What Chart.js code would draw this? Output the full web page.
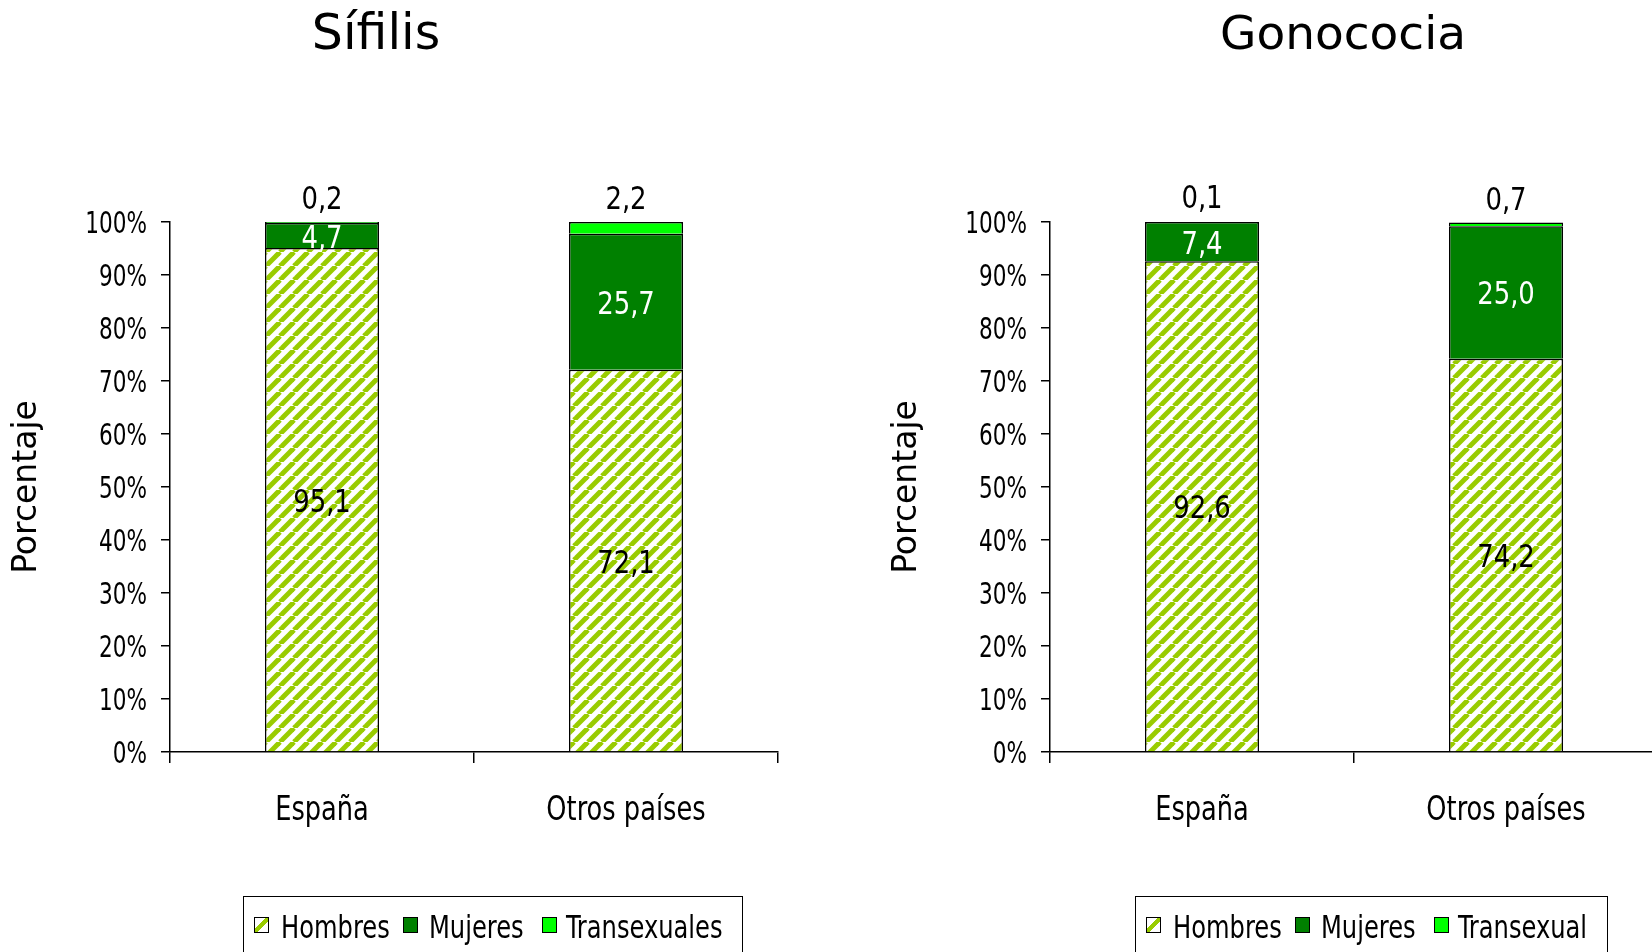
<!DOCTYPE html>
<html>
<head>
<meta charset="utf-8">
<script src="https://cdn.jsdelivr.net/npm/chart.js@4"></script>
<style>
  html, body { margin: 0; padding: 0; background: #fff; }
  body { width: 1652px; height: 952px; position: relative; overflow: hidden; }
  .grafico { position: absolute; top: 0; }
  .titulo {
    position: absolute; top: 9px; font-family: "DejaVu Sans", sans-serif;
    line-height: 48px; color: #000; transform: translateX(-50%); white-space: nowrap;
  }
  .leyenda {
    position: absolute; top: 896px; height: 80px; box-sizing: border-box;
    border: 1.5px solid #000;
    font-family: "DejaVu Sans Condensed", sans-serif; font-size: 32px; line-height: 36px;
  }
  .leyenda .marca { position: absolute; top: 20px; width: 13px; height: 14px; border: 1px solid #000; }
  .leyenda .texto { position: absolute; top: 12px; white-space: nowrap; transform: scaleX(0.84); transform-origin: 0 0; }
</style>
</head>
<body>
<canvas id="graficoSifilis" class="grafico" width="880" height="952" style="left:0px"></canvas>
<canvas id="graficoGono" class="grafico" width="880" height="952" style="left:880px"></canvas>
<div class="titulo" style="left:376px; font-size:49px">Sífilis</div>
<div class="titulo" style="left:1343px; font-size:47px">Gonococia</div>
<div id="leyendaSifilis" class="leyenda" style="left:243px; width:500px"></div>
<div id="leyendaGono" class="leyenda" style="left:1135px; width:473px"></div>

<script>
// Datos
const categorias = ['España', 'Otros países'];
const seriesSifilis = ['Hombres', 'Mujeres', 'Transexuales'];
const seriesGono = ['Hombres', 'Mujeres', 'Transexual'];

const sifilisHombres = [95.1, 72.1];
const sifilisMujeres = [4.7, 25.7];
const sifilisTrans = [0.2, 2.2];

const gonoHombres = [92.6, 74.2];
const gonoMujeres = [7.4, 25.0];
const gonoTrans = [0.1, 0.7];

const ticksY = [0, 10, 20, 30, 40, 50, 60, 70, 80, 90, 100];

const VERDE_CLARO = '#99cc00';
const VERDE_OSCURO = '#008000';
const VERDE_FLUOR = '#00ff00';
const FUENTE = '"DejaVu Sans Condensed", sans-serif';

// Trama rayada para Hombres
function crearTrama() {
    const s = 14;
    const c = document.createElement('canvas');
    c.width = s; c.height = s;
    const ctx = c.getContext('2d');
    ctx.fillStyle = '#fff';
    ctx.fillRect(0, 0, s, s);
    ctx.strokeStyle = VERDE_CLARO;
    ctx.lineWidth = 5;
    for (let k = -1; k <= 1; k++) {
        ctx.beginPath();
        ctx.moveTo(k * s, s);
        ctx.lineTo(k * s + s, 0);
        ctx.stroke();
    }
    return ctx.createPattern(c, 'repeat');
}
const trama = crearTrama();

function formatear(v) {
    return v.toFixed(1).replace('.', ',');
}

// texto comprimido horizontalmente (la fuente original es muy estrecha)
function textoEstrecho(ctx, texto, x, y, align, k) {
    ctx.save();
    ctx.translate(x, y);
    ctx.scale(k, 1);
    ctx.textAlign = align;
    ctx.fillText(texto, 0, 0);
    ctx.restore();
}

// Etiquetas de ejes y valores
const etiquetasPlugin = {
    id: 'etiquetas',
    afterDraw(chart) {
        const ctx = chart.ctx;
        const sx = chart.scales.x;
        const sy = chart.scales.y;
        ctx.save();
        ctx.fillStyle = '#000';
        ctx.textBaseline = 'alphabetic';

        ctx.font = '30px ' + FUENTE;
        ticksY.forEach(v => {
            textoEstrecho(ctx, v + '%', sx.left - 23, sy.getPixelForValue(v) + 11, 'right', 0.8);
        });

        ctx.font = '34px ' + FUENTE;
        categorias.forEach((c, i) => {
            textoEstrecho(ctx, c, sx.getPixelForValue(i), 820, 'center', 0.84);
        });

        ctx.font = '32px ' + FUENTE;
        chart.data.datasets.forEach((ds, i) => {
            const meta = chart.getDatasetMeta(i);
            meta.data.forEach((bar, j) => {
                const p = bar.getProps(['x', 'y', 'base'], true);
                const texto = formatear(ds.data[j]);
                if (i === 2) {
                    ctx.fillStyle = '#000';
                    textoEstrecho(ctx, texto, p.x, p.y - 13, 'center', 0.9);
                } else {
                    ctx.fillStyle = i === 1 ? '#fff' : '#000';
                    textoEstrecho(ctx, texto, p.x, (p.y + p.base) / 2 + 12, 'center', 0.9);
                }
            });
        });
        ctx.restore();
    }
};

function crearGrafico(id, series, hombres, mujeres, trans) {
    const ctx = document.getElementById(id).getContext('2d');
    return new Chart(ctx, {
        type: 'bar',
        data: {
            labels: categorias,
            datasets: [
                { label: series[0], data: hombres, backgroundColor: trama },
                { label: series[1], data: mujeres, backgroundColor: VERDE_OSCURO },
                { label: series[2], data: trans, backgroundColor: VERDE_FLUOR }
            ]
        },
        options: {
            responsive: false,
            animation: false,
            datasets: {
                bar: {
                    borderColor: '#000',
                    borderWidth: 1.5,
                    barPercentage: 0.375,
                    categoryPercentage: 1
                }
            },
            layout: { padding: { top: 222, right: 102, left: 0, bottom: 0 } },
            plugins: {
                legend: { display: false },
                title: { display: false },
                tooltip: { enabled: false }
            },
            scales: {
                x: {
                    stacked: true,
                    grid: {
                        offset: true,
                        drawOnChartArea: false,
                        drawTicks: true,
                        tickLength: 11,
                        color: '#000',
                        lineWidth: 1.5
                    },
                    border: { display: true, color: '#000', width: 1.5 },
                    ticks: { color: 'rgba(0,0,0,0)', font: { size: 30 } },
                    afterFit: function(scale) { scale.height = 200; }
                },
                y: {
                    stacked: true,
                    min: 0,
                    max: 100,
                    afterBuildTicks: function(scale) {
                        scale.ticks = ticksY.map(v => ({ value: v }));
                    },
                    grid: {
                        drawOnChartArea: false,
                        drawTicks: true,
                        tickLength: 9,
                        color: '#000',
                        lineWidth: 1.5
                    },
                    border: { display: true, color: '#000', width: 1.5 },
                    ticks: { color: 'rgba(0,0,0,0)', font: { size: 24 } },
                    title: {
                        display: true,
                        text: 'Porcentaje',
                        color: '#000',
                        padding: { top: 8, bottom: 0 },
                        font: { family: '"DejaVu Sans", sans-serif', size: 33 }
                    },
                    afterFit: function(scale) { scale.width = 170; }
                }
            }
        },
        plugins: [etiquetasPlugin]
    });
}

const posMarcas = [10, 159, 298];
const posTextos = [37, 185, 322];

function crearLeyenda(id, series) {
    const cont = document.getElementById(id);
    const fondos = [
        'linear-gradient(135deg, #fff 38%, ' + VERDE_CLARO + ' 38%, ' + VERDE_CLARO + ' 62%, #fff 62%)',
        VERDE_OSCURO,
        VERDE_FLUOR
    ];
    series.forEach((nombre, i) => {
        const marca = document.createElement('div');
        marca.className = 'marca';
        marca.style.left = posMarcas[i] + 'px';
        marca.style.background = fondos[i];
        const texto = document.createElement('div');
        texto.className = 'texto';
        texto.style.left = posTextos[i] + 'px';
        texto.textContent = nombre;
        cont.appendChild(marca);
        cont.appendChild(texto);
    });
}

crearGrafico('graficoSifilis', seriesSifilis, sifilisHombres, sifilisMujeres, sifilisTrans);
crearGrafico('graficoGono', seriesGono, gonoHombres, gonoMujeres, gonoTrans);
crearLeyenda('leyendaSifilis', seriesSifilis);
crearLeyenda('leyendaGono', seriesGono);
</script>
</body>
</html>
